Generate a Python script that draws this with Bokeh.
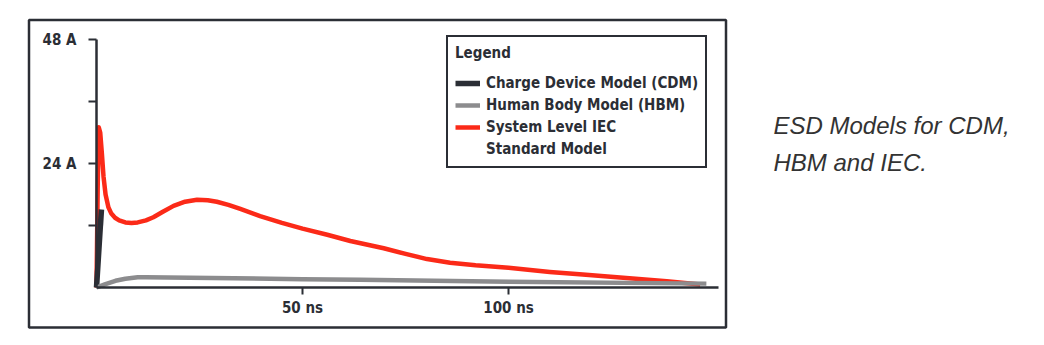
from bokeh.plotting import figure
from bokeh.models import Range1d, FixedTicker, Legend, LegendItem, BoxAnnotation, Label
from bokeh.embed import file_html
from bokeh.resources import INLINE

# ---------------- data ----------------
cdm_t = [0.0, 1.2]
cdm_i = [0.0, 15.1]

hbm_t = [0.0, 2.0, 4.6, 7.0, 10.0, 12.0, 50.0, 64.0, 100.0, 148.0]
hbm_i = [0.0, 0.6, 1.3, 1.7, 2.0, 2.0, 1.6, 1.5, 1.1, 0.75]

iec_t = [0.0, 0.3, 0.55, 0.9, 1.3, 1.7, 2.2, 2.9, 3.6, 4.5, 5.5, 7.0, 8.5, 10.0,
         12.0, 13.8, 16.0, 18.7, 21.5, 24.4, 27.0, 29.2, 32.0, 34.9, 39.7, 45.0,
         50.0, 56.0, 61.6, 69.7, 75.0, 80.2, 85.8, 92.0, 100.0, 110.0, 118.0,
         126.3, 138.4, 146.5]
iec_i = [0.0, 20.0, 31.0, 30.0, 26.0, 21.5, 18.0, 15.5, 14.3, 13.5, 13.0, 12.6,
         12.5, 12.6, 13.0, 13.6, 14.6, 15.8, 16.6, 17.0, 16.9, 16.6, 16.0, 15.2,
         13.8, 12.5, 11.4, 10.2, 9.0, 7.6, 6.5, 5.5, 4.8, 4.3, 3.8, 3.0, 2.5,
         2.0, 1.2, 0.6]

series_names = ["Charge Device Model (CDM)", "Human Body Model (HBM)",
                "System Level IEC Standard Model"]
legend_lines = ["Charge Device Model (CDM)", "Human Body Model (HBM)",
                "System Level IEC", "Standard Model"]

y_ticks = [12, 24, 36, 48]
y_tick_labels = {12: "", 24: "24 A", 36: "", 48: "48 A"}
x_ticks = [50, 100]
x_tick_labels = {50: "50 ns", 100: "100 ns"}

caption_lines = ["ESD Models for CDM,", "HBM and IEC."]

# ---------------- styling / layout ----------------
DARK = "#2b2e35"
GRAY = "#8c8c8e"
RED = "#fb2a18"
FONT = "'DejaVu Sans Condensed', sans-serif"

W, H = 1044, 345
X0_PX, Y0_PX = 96, 287          # pixel position of (0 ns, 0 A)
X_END = 150.7                   # ns at the end of the time axis
px_per_ns = 621 / X_END
px_per_a = 248 / 48


def dx(px):
    return (px - X0_PX) / px_per_ns


def dy(py):
    return (Y0_PX - py) / px_per_a


p = figure(width=W, height=H, output_backend="svg", toolbar_location=None,
           x_range=Range1d(dx(0), dx(W)), y_range=Range1d(dy(H), dy(0)),
           min_border=0, min_border_left=0, min_border_right=0,
           min_border_top=0, min_border_bottom=0,
           background_fill_color="white", border_fill_color="white")
p.outline_line_color = None
p.xgrid.visible = False
p.ygrid.visible = False

r_iec = p.line(iec_t, iec_i, line_color=RED, line_width=4.5, line_join="round")
r_cdm = p.line(cdm_t, cdm_i, line_color=DARK, line_width=5.5)
r_hbm = p.line(hbm_t, hbm_i, line_color=GRAY, line_width=4.5, line_join="round")

for ax in (p.xaxis[0], p.yaxis[0]):
    ax.fixed_location = 0
    ax.axis_line_color = DARK
    ax.axis_line_width = 2.5
    ax.major_tick_line_color = DARK
    ax.major_tick_line_width = 2
    ax.major_tick_in = 0
    ax.minor_tick_line_color = None
    ax.major_label_text_font = FONT
    ax.major_label_text_font_style = "bold"
    ax.major_label_text_font_size = "15px"
    ax.major_label_text_color = DARK

p.yaxis.bounds = (0, 48)
p.yaxis.ticker = FixedTicker(ticks=y_ticks)
p.yaxis.major_label_overrides = y_tick_labels
p.yaxis.major_tick_out = 8
p.yaxis.major_label_standoff = 12

p.xaxis.bounds = (0, 150.9)
p.xaxis.ticker = FixedTicker(ticks=x_ticks)
p.xaxis.major_label_overrides = x_tick_labels
p.xaxis.major_tick_out = 7
p.xaxis.major_label_standoff = 4

legend = Legend(
    items=[LegendItem(label=legend_lines[0], renderers=[r_cdm]),
           LegendItem(label=legend_lines[1], renderers=[r_hbm]),
           LegendItem(label=legend_lines[2], renderers=[r_iec]),
           LegendItem(label=legend_lines[3], renderers=[])],
    title="Legend", location=(446, H - 168),
    title_text_font=FONT, title_text_font_style="bold", title_text_font_size="15px",
    title_text_color=DARK, title_standoff=11,
    label_text_font=FONT, label_text_font_style="bold", label_text_font_size="15px",
    label_text_color=DARK, label_standoff=6, label_width=209, label_height=20,
    glyph_width=25, glyph_height=20, spacing=2, padding=7, margin=0,
    border_line_color=DARK, border_line_width=2.5, border_line_alpha=1.0,
    background_fill_color="white", background_fill_alpha=1.0)
p.add_layout(legend)

# outer frame around the chart
box = BoxAnnotation(left=dx(28.5), right=dx(725.5), top=dy(19.5), bottom=dy(327),
                    fill_color=None, fill_alpha=0, line_color=DARK, line_alpha=1.0,
                    line_width=2.5, level="overlay")
p.add_layout(box)

for k, txt in enumerate(caption_lines):
    p.add_layout(Label(x=dx(773), y=dy(125 + 37 * k), text=txt,
                       text_font="'Liberation Sans', Arial, sans-serif",
                       text_font_style="italic", text_font_size="24px",
                       text_color="#333333", text_baseline="alphabetic"))

open("out.html", "w").write(file_html(p, INLINE))
